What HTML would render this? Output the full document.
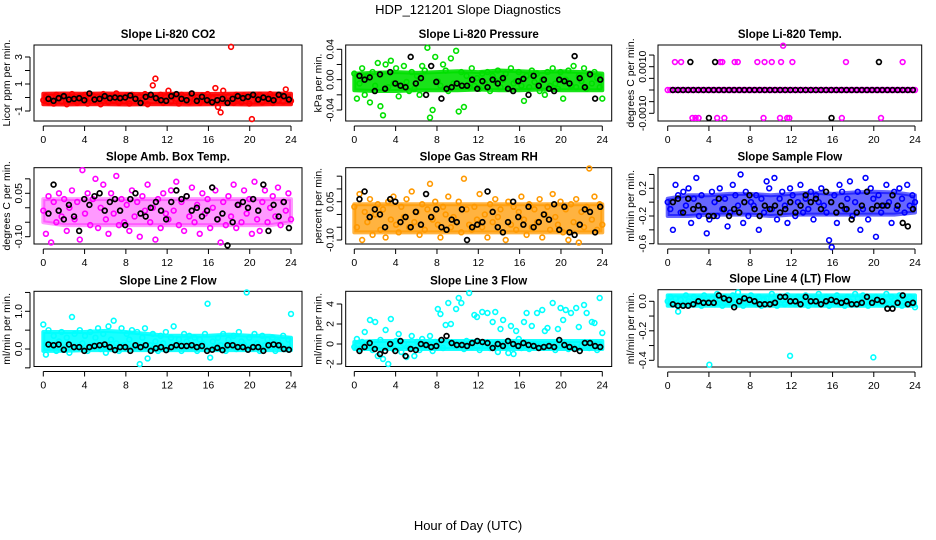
<!DOCTYPE html>
<html><head><meta charset="utf-8"><style>
html,body{margin:0;padding:0;background:#fff;}
svg{display:block;font-family:"Liberation Sans",sans-serif;}
</style></head><body>
<svg id="chart" width="936" height="540" viewBox="0 0 936 540" xmlns="http://www.w3.org/2000/svg">
<text x="468" y="14" text-anchor="middle" font-size="13">HDP_121201  Slope Diagnostics</text>
<text x="468" y="530" text-anchor="middle" font-size="13">Hour of Day (UTC)</text>
</svg>
<script>
// ---- data (colored series: evenly spaced through the day; black series: evenly spaced 0.5..23.8 h) ----
const co2Col = [-20,10,-35,5,-45,20,-10,-30,15,-50,0,25,-25,-40,10,-15,20,-45,-5,15,-30,5,-50,25,-10,-35,10,-20,30,-40,0,-25,15,-45,20,-5,-30,10,-15,25,-50,5,90,140,-20,20,-40,10,50,-30,15,-10,-45,20,-25,5,-35,30,-15,0,-40,15,-20,25,-30,-5,70,-70,-110,50,-25,10,375,-40,20,-15,-35,15,-5,-45,-160,10,-25,20,-35,5,-15,25,-40,0,-20,15,-30,60,-10,-25];
const co2Blk = [-10,-25,-5,10,-15,-10,-5,-20,30,-15,-10,10,-5,0,-5,0,15,-10,-40,5,20,-5,-20,-25,10,25,-10,-20,30,-25,5,-20,-35,-20,-10,-40,-10,10,-5,5,20,-15,0,-10,-20,20,10,-15];
const presCol = [8,-25,-5,15,-20,5,-30,10,-8,22,-35,-47,20,-10,25,-5,15,-22,-8,18,-3,-15,10,-12,5,-20,18,12,42,-50,-40,30,-2,-8,20,12,-15,28,-5,38,-42,10,-36,5,-10,15,-8,2,-12,8,-5,10,-15,5,-2,12,-10,0,8,-12,15,-5,-2,10,-8,-28,5,-10,12,-3,8,-15,0,-20,10,-8,15,-5,-12,10,-25,0,12,-8,18,-10,5,-2,15,-12,8,-5,10,2,-10,-25];
const presBlk = [5,0,3,-15,7,-12,10,-5,-8,-10,30,-5,2,-20,18,-3,-25,-12,-10,-5,-8,-8,0,-12,-2,-10,0,-5,2,-12,-15,-2,1,-20,5,-8,0,-12,-15,0,-2,-5,31,2,-10,7,-25,0];
const tempCol = [0,0,0,0,0,0,0,0,0,0,0,0,0,0,0,0,0,0,0,0,0,0,0,0,0,0,0,0,0,0,0,0,0,0,0,0,0,0,0,0,0,0,0,0,0,0,0,0,0,0,0,0,0,0,0,0,0,0,0,0,0,0,0,0,0,0,0,0,0,0,0,0,0,0,0,0,0,0,0,0,0,0,0,0,0,0,0,0,0,0,0,0,0,0,0,0];
const tempExtraHours = [0.7,1.3,5.1,5.3,6.5,6.8,8.7,9.4,10.1,11.0,12.1,17.3,22.8,2.4,2.7,3.0,4.8,5.5,9.3,10.9,11.6,11.8,16.9,20.7,11.2];
const tempExtraVals = [12,12,12,12,12,12,12,12,12,12,12,12,12,-12,-12,-12,-12,-12,-12,-12,-12,-12,-12,-12,19];
const tempBlk = [0,0,0,0,0,0,0,0,0,0,0,0,0,0,0,0,0,0,0,0,0,0,0,0,0,0,0,0,0,0,0,0,0,0,0,0,0,0,0,0,0,0,0,0,0,0,0,0];
const tempBlkExtraHours = [2.2,4.6,20.5,4.0,15.9];
const tempBlkExtraVals = [12,12,12,-12,-12];
const ambCol = [-1,-9,4,-12,2,-5,5,-3,3,-8,0,6,-4,2,-11,13,-2,5,-6,3,10,-7,0,8,-4,-9,5,-2,11,-6,3,-5,1,-8,6,-3,2,-10,4,-1,8,-5,0,-11,3,-7,5,-2,-4,6,-1,9,-6,2,-8,4,-3,7,-5,1,-9,5,-2,3,-7,0,6,-4,-12,2,-6,4,-3,8,-7,1,-5,6,-2,3,-9,9,-4,-8,2,6,-5,0,4,-3,7,-6,2,-1,5,-4];
const ambBlk = [-2,8,-1,-4,1,-3,-8,3,1,4,5,-1,2,3,-1,-6,3,5,-2,-3,0,2,-1,-4,2,6,3,4,-1,0,-3,-1,7,-4,-2,-13,-5,1,2,0,3,-1,8,-8,1,-3,2,-7];
const rhCol = [3,-5,8,-10,1,-3,6,-8,0,4,-6,2,-9,5,-2,7,-4,-7,3,-1,6,-5,9,-3,1,-8,4,-6,2,12,-2,5,-4,-9,3,0,7,-5,-1,-3,5,-7,14,2,-4,-6,3,-2,8,-5,0,-9,4,-3,6,-1,2,-7,-10,5,-4,3,-6,1,7,-2,-8,4,-5,2,-3,6,-9,0,3,-6,8,-1,-4,5,-7,2,-10,4,-3,6,-11,1,-5,3,18,-2,7,-6,4,-4];
const rhBlk = [6,9,-1,2,0,-5,6,5,-3,-1,-5,1,-4,8,-1,2,-5,-6,-2,-3,2,-10,-5,-4,-3,9,1,-5,-7,-3,5,-1,-4,3,-5,-3,0,-2,4,-6,3,-7,-8,-4,2,1,-7,3];
const flowCol = [0,-10,-40,25,10,-15,15,-5,20,-30,5,35,-20,10,-10,-45,-25,15,0,-20,20,-10,5,-35,-15,25,10,-5,40,-30,15,-20,0,-5,10,-40,5,-15,30,20,-10,35,-25,5,15,-5,-30,20,10,-20,0,25,-15,5,-10,15,-25,10,0,20,-5,-15,-55,-65,10,-30,25,15,-10,5,30,-20,0,15,-40,-10,35,-25,20,5,-50,10,-15,-5,25,0,-30,15,-10,20,5,-15,25,-5,10,0];
const flowBlk = [0,5,-15,5,-10,-5,-10,-20,-20,5,-10,-20,-10,-15,0,10,-10,-20,-5,-10,-5,-15,-10,0,-15,-5,10,0,5,-10,15,0,-15,-5,-10,-25,-15,-5,15,-10,-5,-5,-5,10,-5,-30,-35,-10];
const l2Col = [65,-15,50,10,35,-5,20,45,0,30,-10,85,40,5,50,15,35,-5,45,10,30,55,0,40,-10,60,25,75,15,-5,55,10,40,25,50,5,45,-40,30,55,-25,10,40,20,-5,35,15,45,0,30,60,10,25,-5,40,20,35,5,30,-5,25,15,40,120,-23,20,5,30,10,40,-5,25,15,35,0,45,20,10,150,30,5,40,15,-5,35,10,25,5,30,-5,20,10,35,0,25,93];
const l2Blk = [12,10,12,-2,12,5,5,-5,5,8,10,12,5,-3,5,5,-5,10,5,10,-5,2,5,-3,5,10,8,8,10,5,8,-5,-2,3,-3,10,10,5,5,-2,5,5,-5,10,12,10,0,-2];
const l3Col = [-3,5,-5,2,12,-2,24,-6,22,-12,4,-15,14,-20,25,-5,3,10,-8,0,-13,-4,8,-12,2,-6,5,-3,-1,8,-7,2,35,30,-4,19,41,20,-2,35,46,41,-5,3,51,-3,29,27,-6,32,-2,31,-4,22,32,-8,15,24,-3,-9,18,-10,13,5,-4,22,31,-5,18,0,31,-2,34,13,16,-3,41,-6,15,36,24,34,-5,31,-3,36,17,-2,39,31,-4,22,21,-6,46,11];
const l3Blk = [-7,-3,1,-5,-10,-7,0,-7,3,-12,-5,-6,0,-1,-3,-2,4,8,1,-1,-1,-2,1,3,2,1,-4,0,-2,3,0,-2,1,-1,-2,-4,-3,-2,-3,4,-1,-3,-5,-7,1,1,-2,-3];
const l4Col = [0,3,-2,2,-7,1,-3,4,0,-2,3,-1,2,-3,4,0,-43,2,-2,5,1,-3,3,0,-1,4,-2,6,1,-3,2,-1,4,0,-2,3,-3,1,2,-1,5,0,-3,3,1,-2,4,-37,0,-2,3,1,-1,4,-3,2,0,-2,5,1,-1,3,-3,2,0,4,-2,1,-3,3,0,-1,5,2,-2,4,0,-3,1,-38,3,-1,2,0,5,-2,3,1,-1,4,-3,2,0,3,-1,-4];
const l4Blk = [-2,-3,-3,-3,-2,0,-1,-1,-1,4,2,1,-4,0,2,1,0,-2,-2,-2,-1,3,3,0,0,-2,3,0,0,-2,0,1,0,-1,0,-2,-2,-1,3,-1,1,0,-5,-5,-1,4,-2,-1];
// dense-bulk envelope of the many overlapping 2-min points, every 2 hours (0..24)
const co2BandLo = [-50,-52,-50,-50,-52,-50,-50,-52,-50,-50,-52,-50,-50];
const co2BandHi = [28,30,28,30,28,26,28,28,26,28,30,30,28];
const presBandLo = [-14,-15,-15,-14,-14,-14,-13,-14,-14,-13,-14,-14,-14];
const presBandHi = [8,9,10,9,10,11,10,12,11,10,11,10,8];
const ambBandLo = [-5,-6,-6,-6,-6,-6,-6,-6,-6,-6,-6,-6,-5];
const ambBandHi = [3,3,3,3,3,3,3,3,3,3,3,3,3];
const rhBandLo = [-7,-7,-7,-7,-7,-7,-7,-7,-7,-7,-7,-7,-7];
const rhBandHi = [4,4,4,4,4,4,4,4,4,4,4,4,4];
const flowBandLo = [-20,-20,-18,-18,-18,-20,-18,-18,-18,-18,-18,-18,-15];
const flowBandHi = [5,10,10,12,12,10,12,14,12,14,15,14,10];
const l2BandLo = [-5,-5,-3,-3,-3,-3,-3,-3,-3,-3,-3,-3,-3];
const l2BandHi = [45,45,45,48,45,40,35,35,35,38,35,35,30];
const l3BandLo = [-5,-5,-5,-5,-5,-5,-5,-5,-5,-5,-5,-5,-5];
const l3BandHi = [2,3,3,3,3,3,3,3,3,3,3,3,3];
const l4BandLo = [-3,-3,-3,-3,-3,-3,-3,-3,-3,-3,-3,-3,-3];
const l4BandHi = [4,4,4,4,4,4,4,4,4,4,4,4,4];
const bandHours = [0,2,4,6,8,10,12,14,16,18,20,22,24];
const xTicks = [0,4,8,12,16,20,24];
const co2Ticks = [-1,0,1,2,3]; const co2Labels = ["-1","","1","","3"];
const presTicks = [-0.04,-0.02,0,0.02,0.04]; const presLabels = ["-0.04","","0.00","","0.04"];
const tempTicks = [-0.001,-0.0005,0,0.0005,0.001,0.0015]; const tempLabels = ["-0.0010","","","","0.0010",""];
const ambTicks = [-0.1,-0.05,0,0.05,0.1]; const ambLabels = ["-0.10","","","0.05",""];
const rhTicks = [-0.1,-0.05,0,0.05,0.1,0.15]; const rhLabels = ["-0.10","","","0.05","",""];
const flowTicks = [-0.6,-0.4,-0.2,0,0.2,0.4]; const flowLabels = ["-0.6","","-0.2","","0.2",""];
const l2Ticks = [-0.5,0,0.5,1.0,1.5]; const l2Labels = ["","0.0","","1.0",""];
const l3Ticks = [-2,0,2,4]; const l3Labels = ["-2","0","2","4"];
const l4Ticks = [-0.4,-0.3,-0.2,-0.1,0]; const l4Labels = ["-0.4","","-0.2","","0.0"];

const NS = "http://www.w3.org/2000/svg";
const svg = document.getElementById('chart');
function mk(tag, attrs, parent){const e=document.createElementNS(NS,tag);for(const k in attrs)e.setAttribute(k,attrs[k]);(parent||svg).appendChild(e);return e;}

const panels = [
 {name:'co2', title:'Slope Li-820 CO2', ylab:'Licor ppm per min.', L:34,R:302,T:45,B:121, x0:43.3,x24:291, yv:[1,-1], yp:[84,111], col:'#ff0000', c:co2Col, s:0.01, b:co2Blk, ticks:co2Ticks, labels:co2Labels, bl:co2BandLo, bh:co2BandHi},
 {name:'pressure', title:'Slope Li-820 Pressure', ylab:'kPa per min.', L:345.7,R:611.7,T:45,B:121, x0:354.3,x24:602.3, yv:[0.04,-0.04], yp:[49.3,110], col:'#00e000', c:presCol, s:0.001, b:presBlk, ticks:presTicks, labels:presLabels, bl:presBandLo, bh:presBandHi},
 {name:'li820-temp', title:'Slope Li-820 Temp.', ylab:'degrees C per min.', L:658,R:921.7,T:45,B:121, x0:667.7,x24:915, yv:[0,0.001], yp:[90,66.7], col:'#ff00ff', c:tempCol, s:0.0001, b:tempBlk, ticks:tempTicks, labels:tempLabels, eh:tempExtraHours, ev:tempExtraVals, beh:tempBlkExtraHours, bev:tempBlkExtraVals},
 {name:'amb-box-temp', title:'Slope Amb. Box Temp.', ylab:'degrees C per min.', L:34,R:302,T:167.7,B:244, x0:43.3,x24:291, yv:[0.05,-0.1], yp:[193.3,236.7], col:'#ff00ff', c:ambCol, s:0.01, b:ambBlk, ticks:ambTicks, labels:ambLabels, bl:ambBandLo, bh:ambBandHi, bop:0.4},
 {name:'gas-stream-rh', title:'Slope Gas Stream RH', ylab:'percent per min.', L:345.7,R:611.7,T:167.7,B:244, x0:354.3,x24:602.3, yv:[0.05,-0.1], yp:[201.7,240], col:'#ff9900', c:rhCol, s:0.01, b:rhBlk, ticks:rhTicks, labels:rhLabels, bl:rhBandLo, bh:rhBandHi, bop:0.75},
 {name:'sample-flow', title:'Slope Sample Flow', ylab:'ml/min per min.', L:658,R:921.7,T:167.7,B:244, x0:667.7,x24:915, yv:[0.2,-0.2], yp:[188.3,216], col:'#0000ff', c:flowCol, s:0.01, b:flowBlk, ticks:flowTicks, labels:flowLabels, bl:flowBandLo, bh:flowBandHi, bop:0.6},
 {name:'line2-flow', title:'Slope Line 2 Flow', ylab:'ml/min per min.', L:34,R:302,T:291.3,B:366.5, x0:43.3,x24:291, yv:[1,0], yp:[311.3,349], col:'#00ffff', c:l2Col, s:0.01, b:l2Blk, ticks:l2Ticks, labels:l2Labels, bl:l2BandLo, bh:l2BandHi},
 {name:'line3-flow', title:'Slope Line 3 Flow', ylab:'ml/min per min.', L:345.7,R:611.7,T:291.3,B:366.5, x0:354.3,x24:602.3, yv:[4,0], yp:[304,344], col:'#00ffff', c:l3Col, s:0.1, b:l3Blk, ticks:l3Ticks, labels:l3Labels, bl:l3BandLo, bh:l3BandHi},
 {name:'line4-flow', title:'Slope Line 4 (LT) Flow', ylab:'ml/min per min.', L:658,R:921.7,T:289.7,B:367, x0:667.7,x24:915, yv:[0,-0.4], yp:[301.3,360.3], col:'#00ffff', c:l4Col, s:0.01, b:l4Blk, ticks:l4Ticks, labels:l4Labels, bl:l4BandLo, bh:l4BandHi}
];

panels.forEach(p=>{
  const g = mk('g',{});
  
  
  const xs = h => p.x0 + (p.x24-p.x0)*h/24;
  const ys = v => p.yp[0] + (v-p.yv[0])*(p.yp[1]-p.yp[0])/(p.yv[1]-p.yv[0]);
  const cx = (p.L+p.R)/2;
  const t = mk('text',{x:cx,y:p.T-7,'text-anchor':'middle','font-size':'11.5','font-weight':'bold'},g);
  t.textContent = p.title;
  
  
  const box = mk('rect',{x:p.L,y:p.T,width:p.R-p.L,height:p.B-p.T,fill:'none',stroke:'#000','stroke-width':1},g);
  
  
  // x axis
  const xa = mk('g',{},g);
  
  
  const ay = p.B+5;
  mk('line',{x1:xs(0),x2:xs(24),y1:ay,y2:ay,stroke:'#000'},xa);
  xTicks.forEach(h=>{
    mk('line',{x1:xs(h),x2:xs(h),y1:ay,y2:ay+5,stroke:'#000'},xa);
    const tl = mk('text',{x:xs(h),y:ay+17,'text-anchor':'middle','font-size':'10.5'},xa);
    tl.textContent = h;
  });
  // y axis
  const ya = mk('g',{},g);
  
  
  const axx = p.L-4;
  const tp = p.ticks.map(ys);
  mk('line',{x1:axx,x2:axx,y1:Math.min(...tp),y2:Math.max(...tp),stroke:'#000'},ya);
  p.ticks.forEach((v,i)=>{
    const y = ys(v);
    mk('line',{x1:axx-5,x2:axx,y1:y,y2:y,stroke:'#000'},ya);
    if(p.labels[i]){
      const tl = mk('text',{x:0,y:0,'text-anchor':'middle','font-size':'10.5',transform:`translate(${axx-8},${y}) rotate(-90)`},ya);
      tl.textContent = p.labels[i];
    }
  });
  const yl = mk('text',{x:0,y:0,'text-anchor':'middle','font-size':'10.5',transform:`translate(${p.L-24},${(p.T+p.B)/2}) rotate(-90)`},g);
  yl.textContent = p.ylab;
  
  
  // dense band
  if(p.bl){
    const pts = bandHours.map((h,i)=>xs(h)+','+ys(p.bh[i]*p.s)).concat(bandHours.slice().reverse().map((h,j)=>{const i=bandHours.length-1-j;return xs(h)+','+ys(p.bl[i]*p.s);}));
    const band = mk('polygon',{points:pts.join(' '),fill:p.col,stroke:p.col,'stroke-width':4,'stroke-linejoin':'round','fill-opacity':p.bop||0.9,'stroke-opacity':p.bop||0.9},g);
    
    
  }
  // colored series
  const cs = mk('g',{fill:'none',stroke:p.col,'stroke-width':1.6},g);
  
  
  const n = p.c.length;
  p.c.forEach((v,i)=>{
    const pt = mk('circle',{cx:xs(i*24/(n-1)),cy:ys(v*p.s),r:2.4},cs);
    
    
  });
  if(p.eh) p.eh.forEach((h,i)=>{
    const pt = mk('circle',{cx:xs(h),cy:ys(p.ev[i]*p.s),r:2.4},cs);
    
    
  });
  // black series
  const bs = mk('g',{fill:'none',stroke:'#000','stroke-width':1.7},g);
  
  
  const m = p.b.length;
  p.b.forEach((v,i)=>{
    const pt = mk('circle',{cx:xs(0.5+i*23.3/(m-1)),cy:ys(v*p.s),r:2.4},bs);
    
    
  });
  if(p.beh) p.beh.forEach((h,i)=>{
    const pt = mk('circle',{cx:xs(h),cy:ys(p.bev[i]*p.s),r:2.4},bs);
    
    
  });
});
</script>
</body></html>
